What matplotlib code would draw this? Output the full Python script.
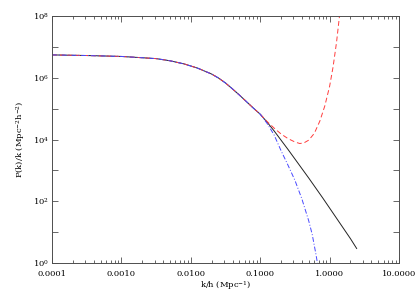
import matplotlib
matplotlib.use("Agg")
import matplotlib.pyplot as plt
import numpy as np
from matplotlib.ticker import FixedLocator, NullFormatter

plt.rcParams["font.family"] = ["DejaVu Serif"]
plt.rcParams["mathtext.fontset"] = "dejavuserif"

# log10(k/h) and log10(P(k)/k)
shared_logk = [-4.0, -3.5, -3.0, -2.5, -2.3, -2.1, -1.9, -1.7, -1.6, -1.5,
               -1.4, -1.3, -1.2, -1.1, -1.0]
shared_logp = [6.74, 6.72, 6.69, 6.62, 6.55, 6.45, 6.31, 6.12, 5.99, 5.83,
               5.64, 5.44, 5.23, 5.02, 4.82]

linear_logk = [-0.9, -0.8, -0.7, -0.6, -0.5, -0.4, -0.3, -0.2, -0.1, 0.0,
               0.1, 0.2, 0.3, 0.39]
linear_logp = [4.56, 4.28, 3.98, 3.68, 3.37, 3.06, 2.75, 2.43, 2.11, 1.78,
               1.45, 1.12, 0.79, 0.47]

noisy_logk = [-0.9, -0.8, -0.7, -0.6, -0.5, -0.43, -0.37, -0.3, -0.22, -0.14,
              -0.07, 0.0, 0.05, 0.1, 0.14, 0.18]
noisy_logp = [4.58, 4.37, 4.18, 4.03, 3.92, 3.87, 3.89, 3.98, 4.20, 4.60,
              5.08, 5.72, 6.35, 7.15, 7.95, 8.7]

cut_logk = [-0.9, -0.8, -0.7, -0.6, -0.5, -0.4, -0.3, -0.25, -0.2, -0.16]
cut_logp = [4.52, 4.15, 3.64, 3.17, 2.68, 2.08, 1.36, 0.92, 0.32, -0.2]

xtick_vals = [1e-4, 1e-3, 1e-2, 1e-1, 1e0, 1e1]
xtick_labels = ["0.0001", "0.0010", "0.0100", "0.1000", "1.0000", "10.0000"]
ytick_vals = [1e0, 1e2, 1e4, 1e6, 1e8]
ytick_labels = [r"$10^{0}$", r"$10^{2}$", r"$10^{4}$", r"$10^{6}$", r"$10^{8}$"]


def series(tail_k, tail_p):
    lk = np.array(shared_logk + tail_k)
    lp = np.array(shared_logp + tail_p)
    return 10 ** lk, 10 ** lp


fig = plt.figure(figsize=(4.15, 2.97), dpi=100)
ax = fig.add_axes([52 / 415, 1 - 263 / 297, 347 / 415, 247 / 297])

k, p = series(linear_logk, linear_logp)
ax.plot(k, p, color="#222222", lw=0.7)
k, p = series(noisy_logk, noisy_logp)
ax.plot(k, p, color="#ff3c3c", lw=0.7, dashes=(5, 3))
k, p = series(cut_logk, cut_logp)
ax.plot(k, p, color="#4848ff", lw=0.7, dashes=(5, 2, 1, 2))

ax.set_xscale("log")
ax.set_yscale("log")
ax.set_xlim(1e-4, 1e1)
ax.set_ylim(1e0, 1e8)

ax.set_xticks(xtick_vals)
ax.set_xticklabels(xtick_labels)
ax.xaxis.set_minor_locator(FixedLocator(
    [m * 10.0 ** e for e in range(-4, 1) for m in range(2, 10)]))
ax.xaxis.set_minor_formatter(NullFormatter())
ax.set_yticks(ytick_vals)
ax.set_yticklabels(ytick_labels)
ax.yaxis.set_minor_locator(FixedLocator([1e1, 1e3, 1e5, 1e7]))
ax.yaxis.set_minor_formatter(NullFormatter())

for s in ax.spines.values():
    s.set_color("0.3")
    s.set_linewidth(0.7)
ax.tick_params(which="both", direction="in", top=True, right=True,
               color="0.3", width=0.6, labelsize=6)
ax.tick_params(axis="x", which="major", length=4.5, pad=5)
ax.tick_params(axis="x", which="minor", length=2.5)
ax.tick_params(axis="y", which="major", length=4.5, pad=2)
ax.tick_params(axis="y", which="minor", length=4.0)

ax.set_xlabel(r"k/h (Mpc$^{-1}$)", fontsize=6, labelpad=1)
ax.set_ylabel(r"P(k)/k (Mpc$^{-2}$h$^{-2}$)", fontsize=6, labelpad=4)

fig.savefig("out.png", dpi=100)
plt.close(fig)
